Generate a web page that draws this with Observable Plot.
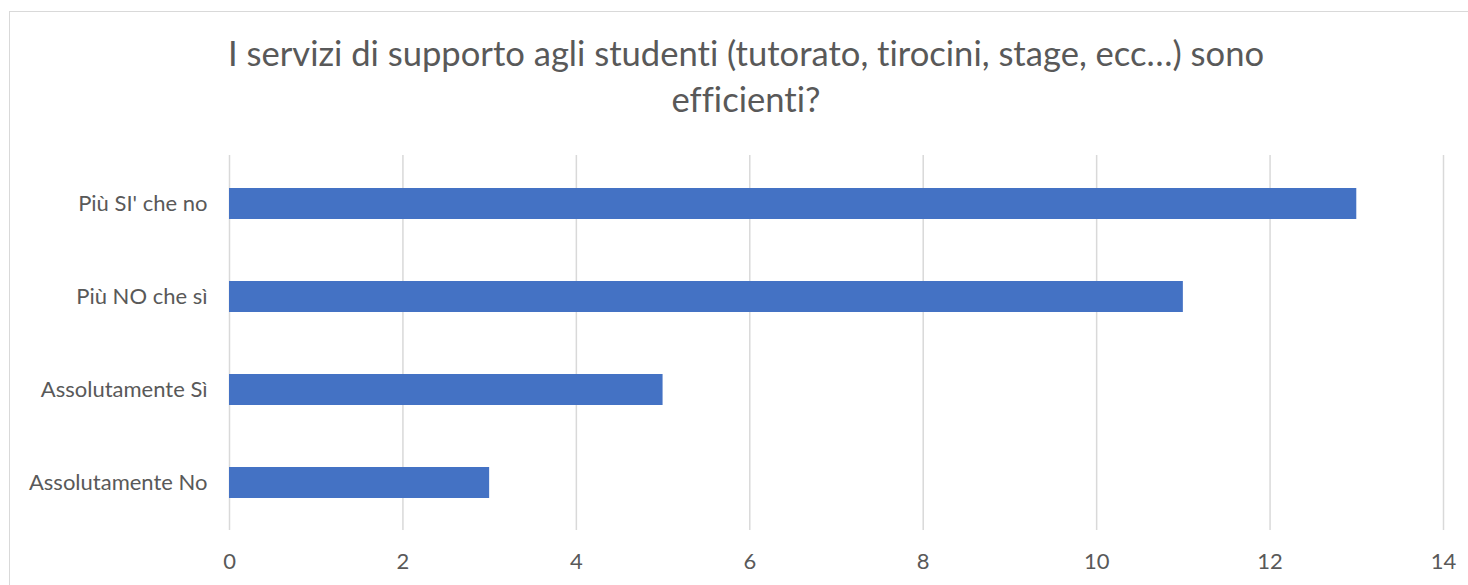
<!DOCTYPE html>
<html><head><meta charset="utf-8">
<script src="https://cdn.jsdelivr.net/npm/d3@7"></script>
<script src="https://cdn.jsdelivr.net/npm/@observablehq/plot@0.6"></script>
<style>
html,body{margin:0;padding:0;background:#fff;overflow:hidden;}
#wrap{position:relative;width:1468px;height:585px;font-family:Lato,"Open Sans",sans-serif;font-variant-ligatures:none;}
#frame{position:absolute;left:9px;top:11px;width:1480px;height:600px;border:1.5px solid #d9d9d9;box-sizing:border-box;}
#title{position:absolute;left:0;top:30px;width:1492px;text-align:center;font-size:34.6px;line-height:46px;color:#595959;font-variant-ligatures:none;}
#chart{position:absolute;left:0;top:0;}
#chart svg text{font-variant-ligatures:none;}
</style></head>
<body><div id="wrap"><div id="frame"></div>
<div id="title">I servizi di supporto agli studenti (tutorato, tirocini, stage, ecc…) sono<br>efficienti?</div>
<div id="chart"></div></div>
<script>
const categories = ["Più SI' che no", "Più NO che sì", "Assolutamente Sì", "Assolutamente No"];
const values = [13, 11, 5, 3];
const xTicks = [0, 2, 4, 6, 8, 10, 12, 14];
const data = categories.map((c, i) => ({category: c, value: values[i]}));
const chart = Plot.plot({
  width: 1468, height: 585,
  marginLeft: 229, marginRight: 25, marginTop: 155, marginBottom: 55,
  style: {fontFamily: "Lato, 'Open Sans', sans-serif", fontSize: "22px", color: "#595959", background: "transparent"},
  x: {domain: [0, 14], ticks: xTicks, label: null, tickSize: 0, tickPadding: 23},
  y: {domain: categories, paddingInner: 0.67, paddingOuter: 0.335, label: null, tickSize: 0, tickPadding: 22},
  marks: [
    Plot.ruleX(xTicks, {stroke: "#d9d9d9", strokeWidth: 1.5, strokeOpacity: 1}),
    Plot.barX(data, {x: "value", y: "category", fill: "#4472C4"}),
    Plot.axisX({ticks: xTicks, tickSize: 0, tickPadding: 23, fontSize: 22, fill: "#595959"}),
    Plot.axisY({tickSize: 0, tickPadding: 22, fontSize: 22, fill: "#595959"})
  ]
});
document.getElementById("chart").appendChild(chart);
</script></body></html>
